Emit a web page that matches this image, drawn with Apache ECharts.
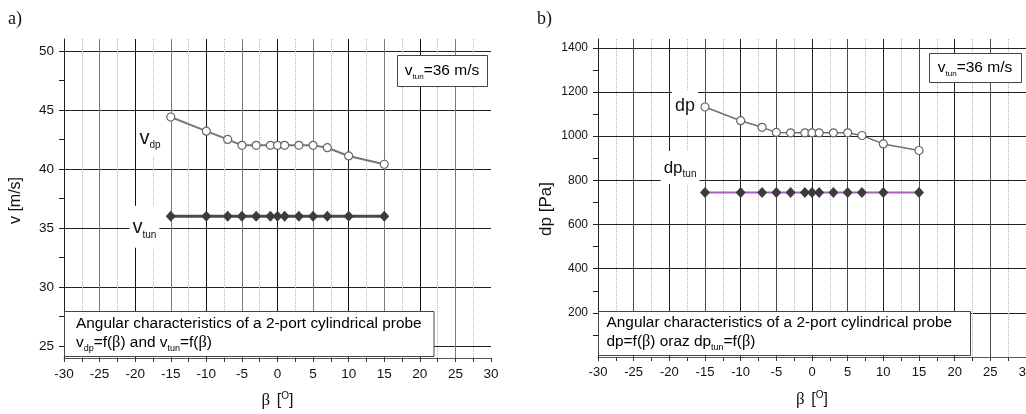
<!DOCTYPE html>
<html>
<head>
<meta charset="utf-8">
<script src="https://cdn.jsdelivr.net/npm/echarts@6/dist/echarts.min.js"></script>
<style>
html, body { margin: 0; padding: 0; background: #fff; }
#chart { width: 1026px; height: 414px; }
</style>
</head>
<body>
<div id="chart"></div>
<script>
// Yaw angle of the probe, degrees
const beta = [-15, -10, -7, -5, -3, -1, 0, 1, 3, 5, 7, 10, 15];

// a) velocities, m/s
const vDp = [44.4, 43.2, 42.5, 42.0, 42.0, 42.0, 42.0, 42.0, 42.0, 42.0, 41.8, 41.1, 40.4];
const vTun = [36, 36, 36, 36, 36, 36, 36, 36, 36, 36, 36, 36, 36];

// b) pressure differences, Pa
const dp = [1132, 1070, 1040, 1017, 1015, 1015, 1015, 1015, 1015, 1015, 1003, 965, 935];
const dpTun = [745, 745, 745, 745, 745, 745, 745, 745, 745, 745, 745, 745, 745];

// Axis tick values
const vLabelValues = [25, 30, 35, 40, 45, 50];
const vTickValues = [25, 27.5, 30, 32.5, 35, 37.5, 40, 42.5, 45, 47.5, 50];
const dpLabelValues = [200, 400, 600, 800, 1000, 1200, 1400];
const dpTickValues = [100, 200, 300, 400, 500, 600, 700, 800, 900, 1000, 1100, 1200, 1300, 1400];

const SANS = 'Liberation Sans, Arial, sans-serif';
const SERIF = 'Liberation Serif, Times New Roman, serif';

const pairs = (ys) => beta.map((b, i) => [b, ys[i]]);

function betaAxis(gridIndex, fontSize, vColors) {
  return {
    gridIndex: gridIndex,
    type: 'value',
    min: -30, max: 30, interval: 5,
    name: '{b|β}  {t|[}{o|O}{t|]}',
    nameLocation: 'middle',
    nameGap: 33,
    nameTextStyle: {
      rich: {
        b: { fontFamily: SERIF, fontSize: 17, color: '#111', lineHeight: 20 },
        t: { fontFamily: SANS, fontSize: 16, color: '#111', lineHeight: 20 },
        o: { fontFamily: SANS, fontSize: 10, color: '#111', lineHeight: 10, verticalAlign: 'top' }
      }
    },
    axisLine: { show: true, onZero: false, lineStyle: { color: '#555', width: 1 } },
    axisTick: { show: true, inside: false, length: 4, lineStyle: { color: '#333' } },
    minorTick: { show: true, splitNumber: 2, length: 4, lineStyle: { color: '#333' } },
    axisLabel: { color: '#111', fontFamily: SANS, fontSize: fontSize, margin: 9 },
    splitLine: { show: true, showMinLine: false, showMaxLine: false, lineStyle: { color: vColors, width: 1 } },
    minorSplitLine: { show: true, lineStyle: { color: '#b4b4b4', type: 'dotted', width: 1 } }
  };
}

// Axis that carries the ticks and labels of a panel
function scaleAxis(gridIndex, min, max, name, nameSize, nameGap, namePad, labelSize, ticks, labels) {
  return {
    gridIndex: gridIndex, type: 'value', min: min, max: max, position: 'left',
    name: name, nameLocation: 'middle', nameGap: nameGap,
    nameTextStyle: { fontFamily: SANS, fontSize: nameSize, color: '#111', padding: namePad },
    axisLine: { show: true, onZero: false, lineStyle: { color: '#222', width: 1 } },
    axisTick: { show: true, length: 5, customValues: ticks, lineStyle: { color: '#222' } },
    axisLabel: { color: '#111', fontFamily: SANS, fontSize: labelSize, margin: 10,
                 customValues: labels, formatter: (v) => String(v) },
    splitLine: { show: false }
  };
}

// Companion axis that only draws the horizontal grid lines
function gridAxis(gridIndex, min, max, extra) {
  return Object.assign({
    gridIndex: gridIndex, type: 'value', min: min, max: max, position: 'left',
    axisLine: { show: false, onZero: false },
    axisTick: { show: false },
    axisLabel: { show: false },
    splitLine: { show: true, showMinLine: false, showMaxLine: false, lineStyle: { color: '#222', width: 1 } }
  }, extra);
}

function tag(coord, main, s, mainSize, subSize, padding) {
  return {
    coord: coord,
    label: {
      show: true, position: 'inside',
      formatter: '{m|' + main + '}' + (s ? '{s|' + s + '}' : ''),
      rich: {
        m: { fontFamily: SANS, fontSize: mainSize, color: '#111', lineHeight: mainSize + 5 },
        s: { fontFamily: SANS, fontSize: subSize, color: '#111', lineHeight: subSize, verticalAlign: 'bottom' }
      },
      backgroundColor: '#fff', padding: padding
    }
  };
}

const markBase = {
  symbol: 'rect', symbolSize: 1,
  itemStyle: { color: 'rgba(0,0,0,0)' },
  silent: true
};

const boxRich = (mainSize, subSize) => ({
  m: { fontFamily: SANS, fontSize: mainSize, color: '#111', lineHeight: mainSize + 5 },
  g: { fontFamily: SERIF, fontSize: mainSize + 1, color: '#111', lineHeight: mainSize + 5 },
  s: { fontFamily: SANS, fontSize: subSize, color: '#111', lineHeight: subSize, verticalAlign: 'bottom' }
});

const option = {
  animation: false,
  backgroundColor: '#fff',
  grid: [
    { left: 64, right: 535, top: 39, bottom: 56, outerBoundsMode: 'none', containLabel: false },
    { left: 598, right: 0, top: 39, bottom: 57, outerBoundsMode: 'none', containLabel: false }
  ],
  xAxis: [
    betaAxis(0, 13.5, ['#7a7a7a', '#111']),
    betaAxis(1, 13, ['#4a4a4a', '#222'])
  ],
  yAxis: [
    scaleAxis(0, 24, 51, 'v [m/s]', 16, 40, [0, 4, 0, 0], 13.5, vTickValues, vLabelValues),
    gridAxis(0, 24, 51, { splitNumber: 5 }),
    scaleAxis(1, 0, 1440, 'dp [Pa]', 17, 43, [0, 22, 0, 0], 12, dpTickValues, dpLabelValues),
    gridAxis(1, 0, 1440, { interval: 200 })
  ],
  series: [
    {
      name: 'v_dp', type: 'line', xAxisIndex: 0, yAxisIndex: 0,
      data: pairs(vDp),
      symbol: 'circle', symbolSize: 8,
      itemStyle: { color: '#fff', borderColor: '#666', borderWidth: 1.2 },
      lineStyle: { color: '#777', width: 2 },
      z: 3,
      markPoint: Object.assign({}, markBase, {
        data: [
          tag([-17.9, 42.6], 'v', 'dp', 20, 10, [6, 3, 6, 3]),
          tag([-18.7, 35.1], 'v', 'tun', 20, 10, [9, 3, 8, 3])
        ]
      })
    },
    {
      name: 'v_tun', type: 'line', xAxisIndex: 0, yAxisIndex: 0,
      data: pairs(vTun),
      symbol: 'diamond', symbolSize: [10, 11],
      itemStyle: { color: '#3c3c3c' },
      lineStyle: { color: '#4a4a4a', width: 3 },
      z: 3
    },
    {
      name: 'dp', type: 'line', xAxisIndex: 1, yAxisIndex: 2,
      data: pairs(dp),
      symbol: 'circle', symbolSize: 8,
      itemStyle: { color: '#fff', borderColor: '#666', borderWidth: 1.2 },
      lineStyle: { color: '#707070', width: 1.5 },
      z: 3,
      markPoint: Object.assign({}, markBase, {
        data: [
          tag([-17.8, 1140], 'dp', '', 18, 10, [4, 3, 2, 3]),
          tag([-18.5, 858], 'dp', 'tun', 17, 10, [6, 3, 5, 3])
        ]
      })
    },
    {
      name: 'dp_tun', type: 'line', xAxisIndex: 1, yAxisIndex: 2,
      data: pairs(dpTun),
      symbol: 'diamond', symbolSize: [10, 11],
      itemStyle: { color: '#3c3c3c' },
      lineStyle: { color: '#a862b8', width: 2 },
      z: 3
    }
  ],
  graphic: [
    { type: 'text', left: 8, top: 10, style: { text: 'a)', font: '18px ' + SERIF, fill: '#111' } },
    { type: 'text', left: 537, top: 10, style: { text: 'b)', font: '18px ' + SERIF, fill: '#111' } },

    // tunnel velocity note, panel a
    { type: 'rect', z: 50, shape: { x: 397.5, y: 55.5, width: 90, height: 31 },
      style: { fill: '#fff', stroke: '#444', lineWidth: 1 } },
    { type: 'text', z: 51, x: 442, y: 71,
      style: { text: '{m|v}{s|tun}{m|=36 m/s}', rich: boxRich(15.5, 8), align: 'center', verticalAlign: 'middle' } },

    // tunnel velocity note, panel b
    { type: 'rect', z: 50, shape: { x: 929.5, y: 53.5, width: 92, height: 29 },
      style: { fill: '#fff', stroke: '#444', lineWidth: 1 } },
    { type: 'text', z: 51, x: 975, y: 68,
      style: { text: '{m|v}{s|tun}{m|=36 m/s}', rich: boxRich(15.5, 8), align: 'center', verticalAlign: 'middle' } },

    // caption, panel a
    { type: 'rect', z: 50, shape: { x: 64.5, y: 311.5, width: 369.5, height: 45 },
      style: { fill: '#fff', stroke: '#444', lineWidth: 1 } },
    { type: 'text', z: 51, x: 76, y: 324,
      style: { text: '{m|Angular characteristics of a 2-port cylindrical probe}', rich: boxRich(15.4, 9), align: 'left', verticalAlign: 'middle' } },
    { type: 'text', z: 51, x: 76, y: 343,
      style: { text: '{m|v}{s|dp}{m|=f(}{g|β}{m|) and v}{s|tun}{m|=f(}{g|β}{m|)}', rich: boxRich(15.4, 9), align: 'left', verticalAlign: 'middle' } },

    // caption, panel b
    { type: 'rect', z: 50, shape: { x: 598.5, y: 311.5, width: 372, height: 44 },
      style: { fill: '#fff', stroke: '#444', lineWidth: 1 } },
    { type: 'text', z: 51, x: 606.5, y: 323,
      style: { text: '{m|Angular characteristics of a 2-port cylindrical probe}', rich: boxRich(15.4, 9), align: 'left', verticalAlign: 'middle' } },
    { type: 'text', z: 51, x: 606.5, y: 342,
      style: { text: '{m|dp=f(}{g|β}{m|) oraz dp}{s|tun}{m|=f(}{g|β}{m|)}', rich: boxRich(15.4, 9), align: 'left', verticalAlign: 'middle' } }
  ]
};

const chart = echarts.init(document.getElementById('chart'), null, { renderer: 'canvas' });
chart.setOption(option);
</script>
</body>
</html>
